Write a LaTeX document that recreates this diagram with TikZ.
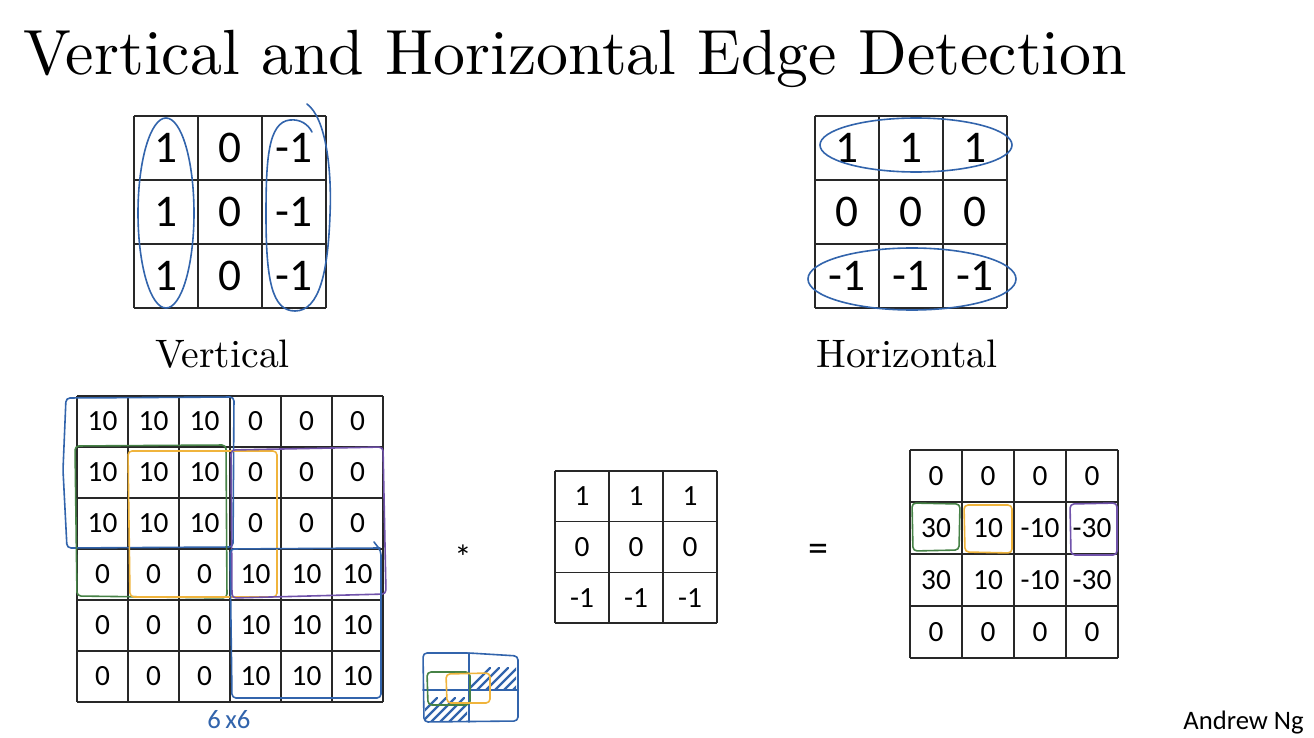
\documentclass[tikz,border=0pt]{standalone}
\usepackage{fontspec}
\newfontfamily\calfont{Carlito}
\newfontfamily\lmten{lmroman10-regular}[Extension=.otf]
\definecolor{hblue}{RGB}{50,100,172}
\definecolor{hgreen}{RGB}{70,130,70}
\definecolor{hyellow}{RGB}{240,180,60}
\definecolor{hpurple}{RGB}{112,82,170}
\definecolor{gridc}{RGB}{40,40,40}
\tikzset{
  gridline/.style={line width=1pt, draw=gridc},
  bignum/.style={font=\calfont\fontsize{34}{40}\selectfont, inner sep=0pt},
  smallnum/.style={font=\calfont\fontsize{22}{26}\selectfont, inner sep=0pt},
  hand/.style={line width=1.2pt, line cap=round, line join=round, rounded corners=3pt},
  hatch/.style={hblue, line width=1.8pt, line cap=round},
  label/.style={font=\lmten\fontsize{29.8}{34}\selectfont, inner sep=0pt, anchor=base west},
}
\begin{document}
\begin{tikzpicture}[x=0.75pt, y=-0.75pt]
\useasboundingbox (0,0) rectangle (1314,738);
\fill[white] (0,0) rectangle (1314,738);

% title
\node[anchor=base west, inner sep=0pt, font=\lmten\fontsize{47.9}{54}\selectfont] (title) at (23,75) {Vertical and Horizontal Edge Detection};

% ---------- top-left vertical filter ----------
\foreach \k in {0,...,3} {
  \draw[gridline] (134+64*\k,116) -- (134+64*\k,308);
  \draw[gridline] (134,116+64*\k) -- (326,116+64*\k);
}
\foreach \row [count=\i] in {{1,0,-1},{1,0,-1},{1,0,-1}} {
  \foreach \v [count=\j] in \row {
    \node[bignum] (v-\i-\j) at ({134+64*(\j-1)+32},{116+64*(\i-1)+32}) {\v};
  }
}
\node[label] (vlabel) at (155,367) {Vertical};
\draw[hand, hblue, rounded corners=0pt] (166,213) ellipse [x radius=28, y radius=95];
\draw[hand, hblue, rounded corners=0pt] (307,104) .. controls (326,118) and (332,170) .. (330,215)
  .. controls (328,270) and (320,311) .. (295,311)
  .. controls (272,311) and (266,280) .. (266,215)
  .. controls (266,160) and (268,122) .. (290,120)
  .. controls (300,119) and (308,124) .. (312,132);

% ---------- top-right horizontal filter ----------
\foreach \k in {0,...,3} {
  \draw[gridline] (815+64*\k,116) -- (815+64*\k,308);
  \draw[gridline] (815,116+64*\k) -- (1007,116+64*\k);
}
\foreach \row [count=\i] in {{1,1,1},{0,0,0},{-1,-1,-1}} {
  \foreach \v [count=\j] in \row {
    \node[bignum] (h-\i-\j) at ({815+64*(\j-1)+32},{116+64*(\i-1)+32}) {\v};
  }
}
\node[label] (hlabel) at (816,367) {Horizontal};
\draw[hand, hblue, rounded corners=0pt] (916,145) ellipse [x radius=96, y radius=27];
\draw[hand, hblue, rounded corners=0pt] (912,279) ellipse [x radius=104, y radius=31];

% ---------- 6x6 image ----------
\foreach \k in {0,...,6} {
  \draw[gridline] (77+51*\k,396) -- (77+51*\k,702);
  \draw[gridline] (77,396+51*\k) -- (383,396+51*\k);
}
\foreach \row [count=\i] in {{10,10,10,0,0,0},{10,10,10,0,0,0},{10,10,10,0,0,0},{0,0,0,10,10,10},{0,0,0,10,10,10},{0,0,0,10,10,10}} {
  \foreach \v [count=\j] in \row {
    \node[smallnum] (a-\i-\j) at ({77+51*(\j-1)+25.5},{396+51*(\i-1)+25.5}) {\v};
  }
}
% hand-drawn windows
\draw[hand, hblue] (66,398) -- (234,397) -- (233,547) -- (67,548) -- (63,470) -- cycle;
\draw[hand, hgreen] (75,446) -- (226,445) -- (227,598) -- (77,596) -- cycle;
\draw[hand, hyellow] (128,451) -- (277,451) -- (277,597) -- (130,597) -- cycle;
\draw[hand, hpurple] (231,450) -- (383,447) -- (386,594) -- (232,598) -- cycle;
\draw[hand, hblue] (374,542) -- (381,551) -- (381,698) -- (232,698) -- (230,549) -- (380,548);
\node[font=\calfont\fontsize{20}{24}\selectfont, text=hblue, inner sep=0pt] (sixbysix) at (229,720) {6\,x6};

% small sketch
\begin{scope}
  \clip (471,656) rectangle (516,688);
  \foreach \k in {0,...,7} \draw[hatch] (458+\k*9,700) -- ++(32,-32);
\end{scope}
\begin{scope}
  \clip (425,692) rectangle (467,720);
  \foreach \k in {0,...,7} \draw[hatch] (405+\k*9,730) -- ++(32,-32);
\end{scope}
\draw[hand, hblue] (423,653) -- (469,653) -- (518,656) -- (518,721) -- (424,722) -- cycle;
\draw[hand, hblue, rounded corners=0pt] (469,653) -- (469,722);
\draw[hand, hblue, rounded corners=0pt] (423,690) -- (518,690);
\draw[hand, hgreen] (427,672) -- (470,672) -- (470,705) -- (428,705) -- cycle;
\draw[hand, hyellow] (446,674) -- (490,673) -- (490,703) -- (447,703) -- cycle;

% operators
\node[font=\calfont\fontsize{26}{30}\selectfont, inner sep=0pt] (star) at (463,557) {*};
\node[font=\calfont\fontsize{30}{34}\selectfont, inner sep=0pt] (eq) at (818,553) {=};

% ---------- middle filter ----------
\foreach \k in {0,...,3} {
  \draw[gridline] (555+54*\k,471) -- (555+54*\k,623);
}
\foreach \k in {0,...,3} {
  \draw[gridline] (555,471+50.7*\k) -- (717,471+50.7*\k);
}
\foreach \row [count=\i] in {{1,1,1},{0,0,0},{-1,-1,-1}} {
  \foreach \v [count=\j] in \row {
    \node[smallnum] (m-\i-\j) at ({555+54*(\j-1)+27},{471+50.7*(\i-1)+25.3}) {\v};
  }
}

% ---------- output ----------
\foreach \k in {0,...,4} {
  \draw[gridline] (910+52*\k,450) -- (910+52*\k,658);
  \draw[gridline] (910,450+52*\k) -- (1118,450+52*\k);
}
\foreach \row [count=\i] in {{0,0,0,0},{30,10,-10,-30},{30,10,-10,-30},{0,0,0,0}} {
  \foreach \v [count=\j] in \row {
    \node[smallnum] (o-\i-\j) at ({910+52*(\j-1)+26},{450+52*(\i-1)+26}) {\v};
  }
}
\draw[hand, hgreen] (912,503) -- (960,504) -- (959,550) -- (913,551) -- cycle;
\draw[hand, hyellow] (964,505) -- (1012,505) -- (1012,553) -- (965,552) -- cycle;
\draw[hand, hpurple] (1070,504) -- (1117,503) -- (1117,555) -- (1071,555) -- cycle;

\node[anchor=base east, inner sep=0pt, font=\calfont\fontsize{20}{24}\selectfont] (author) at (1304,729) {Andrew Ng};
\end{tikzpicture}
\end{document}
